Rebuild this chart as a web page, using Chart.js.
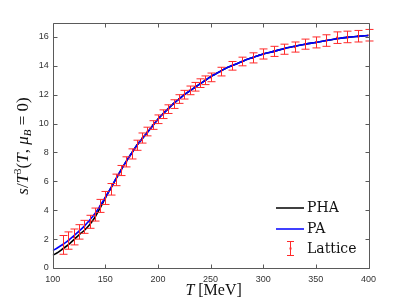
<!DOCTYPE html>
<html>
<head>
<meta charset="utf-8">
<script src="https://cdn.jsdelivr.net/npm/chart.js@4.4.1/dist/chart.umd.min.js"></script>
<style>
html,body{margin:0;padding:0;background:#fff;}
#wrap{width:407px;height:305px;position:relative;}
</style>
</head>
<body>
<div id="wrap"><canvas id="c" width="407" height="305"></canvas></div>
<script>
// ---- data ----
const curveT = [100,105,110,115,120,125,130,135,140,145,150,155,160,165,170,175,180,185,190,195,200,205,210,215,220,225,230,235,240,245,250,255,260,265,270,275,280,285,290,295,300,310,320,330,340,350,360,370,380,390,400];
const phaValues = [0.88,1.08,1.35,1.62,1.95,2.3,2.6,3.0,3.5,4.15,4.85,5.5,6.15,6.8,7.4,7.95,8.5,8.95,9.4,9.85,10.3,10.7,11.05,11.4,11.7,12.0,12.25,12.5,12.75,13.0,13.25,13.45,13.65,13.85,14.0,14.15,14.3,14.45,14.58,14.7,14.82,15.0,15.2,15.35,15.5,15.62,15.75,15.87,15.97,16.04,16.1];
const paValues  = [1.2,1.42,1.65,1.92,2.22,2.55,2.9,3.3,3.75,4.3,4.9,5.52,6.17,6.8,7.4,7.95,8.5,8.95,9.4,9.85,10.3,10.7,11.05,11.4,11.7,12.0,12.25,12.5,12.75,13.0,13.25,13.45,13.65,13.85,14.0,14.15,14.3,14.45,14.58,14.7,14.82,15.0,15.2,15.35,15.5,15.62,15.75,15.87,15.97,16.04,16.1];
const latticeT = [110,115,120,125,130,135,140,145,150,155,160,165,170,175,180,185,190,195,200,205,210,215,220,225,230,235,240,245,250,260,270,280,290,300,310,320,330,340,350,360,370,380,390,400];
const latticeValues = [1.6,1.9,2.15,2.5,2.85,3.2,3.7,4.3,4.85,5.45,6.1,6.75,7.35,7.9,8.5,9.0,9.45,9.9,10.3,10.65,11.0,11.35,11.7,12.0,12.3,12.55,12.8,13.0,13.2,13.6,14.0,14.3,14.55,14.82,15.0,15.15,15.3,15.5,15.62,15.75,15.95,16.0,16.05,16.12];
const latticeErrors = [0.65,0.6,0.55,0.5,0.45,0.45,0.45,0.45,0.45,0.4,0.4,0.35,0.35,0.35,0.35,0.35,0.3,0.3,0.3,0.3,0.3,0.3,0.3,0.3,0.3,0.3,0.3,0.3,0.3,0.3,0.3,0.3,0.35,0.35,0.35,0.35,0.35,0.35,0.38,0.4,0.4,0.4,0.4,0.4];
const xTicks = [100,150,200,250,300,350,400];
const yTicks = [0,2,4,6,8,10,12,14,16];

const AXIS = '#5a5a5a';
const RED = '#ff2a2a';

const framePlugin = {
  id: 'frame',
  afterDatasetsDraw(chart) {
    const ctx = chart.ctx;
    const xs = chart.scales.x, ys = chart.scales.y;
    ctx.save();
    ctx.strokeStyle = RED; ctx.lineWidth = 1;
    for (let i = 0; i < latticeT.length; i++) {
      const px = Math.round(xs.getPixelForValue(latticeT[i])) + 0.5;
      const y1 = ys.getPixelForValue(latticeValues[i] - latticeErrors[i]);
      const y2 = ys.getPixelForValue(latticeValues[i] + latticeErrors[i]);
      ctx.beginPath();
      ctx.moveTo(px, y1); ctx.lineTo(px, y2);
      ctx.moveTo(px - 4, y1); ctx.lineTo(px + 4, y1);
      ctx.moveTo(px - 4, y2); ctx.lineTo(px + 4, y2);
      ctx.stroke();
    }
    ctx.restore();
  },
  afterDraw(chart) {
    const ctx = chart.ctx, a = chart.chartArea;
    const xs = chart.scales.x, ys = chart.scales.y;
    ctx.save();
    ctx.strokeStyle = AXIS; ctx.lineWidth = 1;
    const L = Math.round(a.left) + 0.5, R = Math.round(a.right) + 0.5;
    const T = Math.round(a.top) + 0.5, B = Math.round(a.bottom) + 0.5;
    ctx.beginPath();
    ctx.rect(L, T, R - L, B - T);
    xTicks.forEach(v => {
      const p = Math.round(xs.getPixelForValue(v)) + 0.5;
      ctx.moveTo(p, B); ctx.lineTo(p, B - 4);
      ctx.moveTo(p, T); ctx.lineTo(p, T + 4);
    });
    yTicks.forEach(v => {
      const p = Math.round(ys.getPixelForValue(v)) + 0.5;
      ctx.moveTo(L, p); ctx.lineTo(L + 4, p);
      ctx.moveTo(R, p); ctx.lineTo(R - 4, p);
    });
    ctx.stroke();

    // x axis title
    ctx.fillStyle = '#111';
    ctx.textBaseline = 'alphabetic';
    const fI = 'italic 16px "Liberation Serif"', fR = '16px "Liberation Serif"';
    ctx.font = fI; const w1 = ctx.measureText('T').width;
    ctx.font = fR; const w2 = ctx.measureText(' [MeV]').width;
    let sx = (a.left + a.right) / 2 - (w1 + w2) / 2 + 3;
    ctx.font = fI; ctx.fillText('T', sx, 295);
    ctx.font = fR; ctx.fillText(' [MeV]', sx + w1, 295);

    // y axis title (rotated)
    const parts = [
      {t:'s', f:'italic 17px "Liberation Serif"', dy:0},
      {t:'/', f:'17px "Liberation Serif"', dy:0},
      {t:'T', f:'italic 17px "Liberation Serif"', dy:0},
      {t:'3', f:'11px "Liberation Serif"', dy:-7},
      {t:'(', f:'17px "Liberation Serif"', dy:0},
      {t:'T', f:'italic 17px "Liberation Serif"', dy:0},
      {t:', ', f:'17px "Liberation Serif"', dy:0},
      {t:'\u03bc', f:'italic 17px "Liberation Serif"', dy:0},
      {t:'B', f:'italic 11px "Liberation Serif"', dy:3},
      {t:' = ', f:'17px "Liberation Serif"', dy:0},
      {t:'0', f:'17px "Liberation Serif"', dy:0},
      {t:')', f:'17px "Liberation Serif"', dy:0}
    ];
    let tot = 0;
    parts.forEach(p => { ctx.font = p.f; p.w = ctx.measureText(p.t).width; tot += p.w; });
    ctx.translate(28, 146);
    ctx.rotate(-Math.PI / 2);
    let cx = -tot / 2;
    parts.forEach(p => { ctx.font = p.f; ctx.fillText(p.t, cx, p.dy); cx += p.w; });
    ctx.restore();

    // legend
    ctx.save();
    ctx.font = '14px "DejaVu Serif"';
    ctx.fillStyle = '#111';
    ctx.textBaseline = 'middle';
    ctx.lineWidth = 1.5;
    ctx.strokeStyle = '#000';
    ctx.beginPath(); ctx.moveTo(276, 208); ctx.lineTo(304, 208); ctx.stroke();
    ctx.fillText('PHA', 307, 208);
    ctx.strokeStyle = '#0000ff';
    ctx.beginPath(); ctx.moveTo(276, 229); ctx.lineTo(304, 229); ctx.stroke();
    ctx.fillText('PA', 307, 229);
    ctx.strokeStyle = RED; ctx.lineWidth = 1;
    ctx.beginPath();
    ctx.moveTo(290.5, 241); ctx.lineTo(290.5, 256);
    ctx.moveTo(287, 241.5); ctx.lineTo(294, 241.5);
    ctx.moveTo(287, 255.5); ctx.lineTo(294, 255.5);
    ctx.stroke();
    ctx.fillStyle = RED; ctx.fillRect(289.5, 247.5, 2, 2);
    ctx.fillStyle = '#111';
    ctx.fillText('Lattice', 307, 249);
    ctx.restore();
  }
};

const ctx = document.getElementById('c').getContext('2d');
new Chart(ctx, {
  type: 'line',
  data: {
    datasets: [
      {
        label: 'Lattice', type: 'scatter',
        data: latticeT.map((t, i) => ({x: t, y: latticeValues[i]})),
        showLine: false, pointRadius: 1.1, pointBackgroundColor: RED, pointBorderWidth: 0,
        borderColor: RED, order: 3
      },
      {
        label: 'PHA',
        data: curveT.map((t, i) => ({x: t, y: phaValues[i]})),
        borderColor: '#000', borderWidth: 1.6, pointRadius: 0, fill: false,
        cubicInterpolationMode: 'monotone', order: 2
      },
      {
        label: 'PA',
        data: curveT.map((t, i) => ({x: t, y: paValues[i]})),
        borderColor: '#0000ff', borderWidth: 1.6, pointRadius: 0, fill: false,
        cubicInterpolationMode: 'monotone', order: 1
      }
    ]
  },
  options: {
    responsive: false,
    animation: false,
    layout: { padding: { left: 0, right: 38.5, top: 22.5, bottom: 0 } },
    plugins: { legend: { display: false }, tooltip: { enabled: false } },
    scales: {
      x: {
        type: 'linear', min: 100, max: 400,
        grid: { display: false, drawTicks: false },
        border: { display: false },
        afterBuildTicks: s => { s.ticks = xTicks.map(v => ({value: v})); },
        afterFit: s => { s.height = 37; },
        ticks: { padding: 6, color: '#333', font: { family: 'Liberation Sans', size: 9 }, maxRotation: 0 }
      },
      y: {
        type: 'linear', min: 0, max: 17,
        grid: { display: false, drawTicks: false },
        border: { display: false },
        afterBuildTicks: s => { s.ticks = yTicks.map(v => ({value: v})); },
        afterFit: s => { s.width = 52.7; },
        ticks: { padding: 4, color: '#333', font: { family: 'Liberation Sans', size: 9 } }
      }
    }
  },
  plugins: [framePlugin]
});
</script>
</body>
</html>
